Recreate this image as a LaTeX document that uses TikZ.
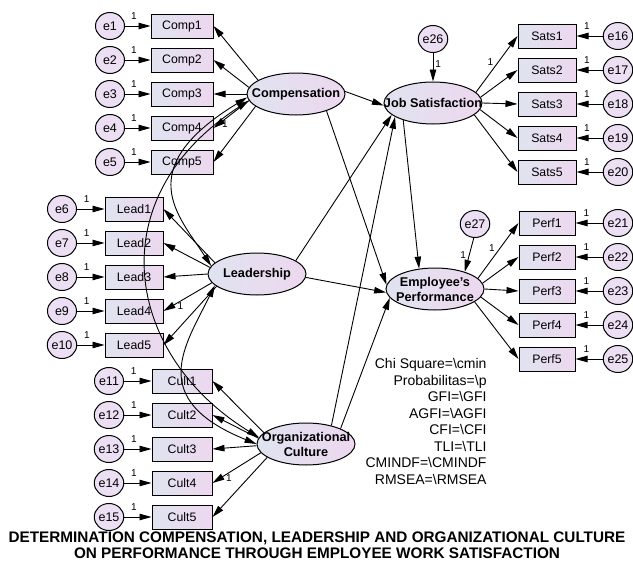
\documentclass[tikz,border=0pt]{standalone}
\usepackage{fontspec}
\setmainfont{Liberation Sans}
\usepackage{tikz}
\usetikzlibrary{arrows.meta,shapes.geometric}

\definecolor{boxleft}{RGB}{224,227,240}
\definecolor{boxright}{RGB}{237,216,239}
\definecolor{errfill}{RGB}{236,223,243}

\tikzset{
  obs/.style={draw, line width=1pt, left color=boxleft, right color=boxright,
    minimum width=60pt, minimum height=24pt, inner sep=0pt,
    font=\fontsize{12.3}{14}\selectfont},
  lat/.style={ellipse, draw, line width=1pt, left color=boxleft, right color=boxright,
    minimum width=98pt, minimum height=42pt, inner sep=0pt},
  latname/.style={align=center, inner sep=0pt, font=\bfseries\fontsize{12.7}{15}\selectfont},
  err/.style={ellipse, draw, line width=1pt, fill=errfill, minimum width=29pt,
    minimum height=27pt, inner sep=0pt, font=\fontsize{12.5}{14}\selectfont},
  one/.style={inner sep=0pt, font=\fontsize{10}{10}\selectfont},
}

\begin{document}
\begin{tikzpicture}[x=1pt, y=-1pt, line width=0.9pt, >={Triangle[length=12pt,width=6.5pt]}]
\useasboundingbox (0,0) rectangle (633,562);

% latent variables
\node[lat, label={[latname]center:Compensation}] (comp) at (296,94) {};
\node[lat, label={[latname]center:Leadership}] (lead) at (257,274) {};
\node[lat, label={[latname]center:Organizational\\Culture}] (cult) at (306,444) {};
\node[lat, label={[latname]center:Job Satisfaction}] (js) at (433,103) {};
\node[lat, label={[latname]center:Employee's\\Performance}] (ep) at (435,289) {};
\node[err] (e26) at (433,39) {e26};
\node[err] (e27) at (475,224) {e27};

% indicators
\foreach \i/\y/\a in {1/26/160,2/60/172,3/94/180,4/128/188,5/162/197}{
  \node[obs, minimum width=62pt] (comp\i) at (182,\y) {Comp\i};
  \node[err] (e\i) at (110,\y) {e\i};
  \draw[->] (e\i) -- node[one, pos=0.35, above=6pt] {1} (comp\i);
  \draw[->] (comp.\a) -- (comp\i.east);
}
\foreach \i/\y/\a in {1/209/165,2/243/172,3/277/180,4/311/191,5/345/197}{
  \pgfmathtruncatemacro{\k}{\i+5}
  \node[obs, minimum width=58pt] (lead\i) at (134,\y) {Lead\i};
  \node[err] (e\k) at (62,\y) {e\k};
  \draw[->] (e\k) -- node[one, pos=0.35, above=6pt] {1} (lead\i);
  \draw[->] (lead.\a) -- (lead\i.east);
}
\foreach \i/\y/\a in {1/381/165,2/415/173,3/449/182,4/483/191,5/517/199}{
  \pgfmathtruncatemacro{\k}{\i+10}
  \node[obs] (cult\i) at (182,\y) {Cult\i};
  \node[err] (e\k) at (109,\y) {e\k};
  \draw[->] (e\k) -- node[one, pos=0.35, above=6pt] {1} (cult\i);
  \draw[->] (cult.\a) -- (cult\i.east);
}
\foreach \i/\y/\a in {1/36/14,2/70/7,3/104/0,4/138/-8,5/172/-16}{
  \pgfmathtruncatemacro{\k}{\i+15}
  \node[obs, minimum width=58pt] (sats\i) at (547,\y) {Sats\i};
  \node[err] (e\k) at (618,\y) {e\k};
  \draw[->] (e\k) -- node[one, pos=0.6, above=6pt] {1} (sats\i);
  \draw[->] (js.\a) -- (sats\i.west);
}
\foreach \i/\y/\a in {1/223/14,2/257/7,3/291/0,4/325/-10,5/359/-18}{
  \pgfmathtruncatemacro{\k}{\i+20}
  \node[obs, minimum width=56pt] (perf\i) at (547,\y) {Perf\i};
  \node[err] (e\k) at (618,\y) {e\k};
  \draw[->] (e\k) -- node[one, pos=0.6, above=6pt] {1} (perf\i);
  \draw[->] (ep.\a) -- (perf\i.west);
}
\path (comp.188) -- node[one, pos=0.68, below=1pt] {1} (comp4.east);
\path (lead.191) -- node[one, pos=0.65, below=1pt] {1} (lead4.east);
\path (cult.191) -- node[one, pos=0.66, below=1pt] {1} (cult4.east);
\path (js.14) -- node[one, pos=0.45, above left=1pt] {1} (sats1.west);
\path (ep.14) -- node[one, pos=0.45, above left=1pt] {1} (perf1.west);

% structural paths
\draw[->] (comp.3) -- (js.183);
\draw[->] (comp.-29) -- (ep.175);
\draw[->] (lead.19) -- (js.196);
\draw[->] (lead.-4) -- (ep.184);
\draw[->] (cult.36) -- (js.200);
\draw[->] (cult.24) -- (ep.191);
\draw[->] (js.210) -- (ep.128);
\draw[->] (e26) -- node[one, pos=0.4, right=2pt] {1} (js);
\draw[->] (e27.265) -- node[one, midway, left=3pt] {1} (ep.30);

% covariances
\draw[<->] (comp.184) .. controls (130,169) and (179,216) .. (lead.170);
\draw[<->] (comp.188) .. controls (97,199) and (126,356) .. (cult.172);
\draw[<->] (lead.195) .. controls (185,346) and (146,399) .. (cult.180);

\node[align=right, anchor=north east, inner sep=0pt, font=\fontsize{14}{16.5}\selectfont] (fit) at (487,358)
  {Chi Square=\textbackslash cmin\\Probabilitas=\textbackslash p\\GFI=\textbackslash GFI\\AGFI=\textbackslash AGFI\\CFI=\textbackslash CFI\\TLI=\textbackslash TLI\\CMINDF=\textbackslash CMINDF\\RMSEA=\textbackslash RMSEA};
\node[align=center, inner sep=0pt, font=\bfseries\fontsize{15.3}{16}\selectfont] (title) at (317,545.5)
  {DETERMINATION COMPENSATION, LEADERSHIP AND ORGANIZATIONAL CULTURE\\ON PERFORMANCE THROUGH EMPLOYEE WORK SATISFACTION};
\end{tikzpicture}
\end{document}
